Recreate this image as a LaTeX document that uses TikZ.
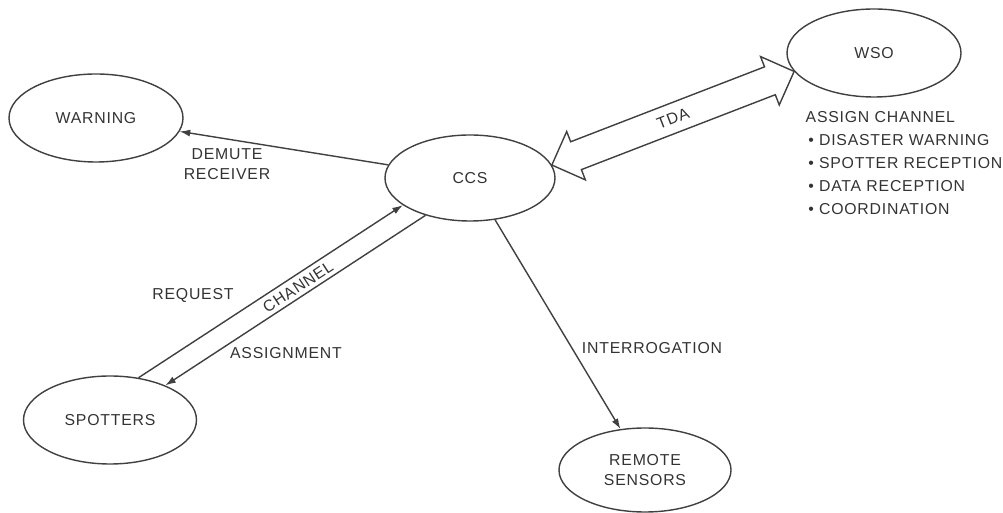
\documentclass[tikz,border=0pt]{standalone}
\usepackage{fontspec}
\setmainfont{Liberation Sans}[LetterSpace=5]
\usetikzlibrary{shapes.geometric,shapes.arrows,arrows.meta,calc}
\begin{document}
\begin{tikzpicture}[black!75,line width=.8pt,
		oval/.style={draw,ellipse,inner sep=0pt,minimum width=3.48cm,minimum height=1.76cm,align=center},
		tip/.style={-{Latex[length=6pt,width=4pt]}},
		tda/.style={draw,double arrow,double arrow head extend=.22cm,inner xsep=0pt,inner ysep=5pt,fill=white},
		every node/.style={font=\fontsize{9}{11}\selectfont,text=black!80}]
		\useasboundingbox(0,0)rectangle(20.06,-10.26);
		\node[oval](warning)at(1.92,-2.36){WARNING};
		\node[oval,minimum width=3.4cm,minimum height=1.72cm](ccs)at(9.4,-3.56){CCS};
		\node[oval](wso)at(17.48,-1.06){WSO};
		\node[oval,minimum width=3.46cm](spotters)at(2.2,-8.4){SPOTTERS};
		\node[oval,minimum width=3.44cm,minimum height=1.68cm](remote)at(12.9,-9.4){REMOTE\\SENSORS};
		% links from ccs
		\draw[tip](ccs)--(warning);
		\draw[tip](ccs)--(remote);
		\draw[tip](spotters.56)--(ccs.202.3);
		\draw[tip](ccs.220.7)--(spotters.32.5);
		\path let \p1=($(wso.193)-(ccs.9)$),\n1={atan2(\y1,\x1)},\n2={veclen(\x1,\y1)} in
			node[tda,rotate=\n1,minimum height=\n2]at($(ccs.9)!.5!(wso.193)$){TDA};
		% labels
		\node[align=center](demute)at(4.54,-3.28){DEMUTE\\RECEIVER};
		\node(request)at(3.86,-5.9){REQUEST};
		\node[rotate=33.3](channel)at(5.96,-5.74){CHANNEL};
		\node(assignment)at(5.72,-7.06){ASSIGNMENT};
		\node(interrogation)at(13.04,-6.96){INTERROGATION};
		\node[anchor=north west,align=left,inner sep=0pt,font=\fontsize{9}{13}\selectfont](assign)at(16.1,-2.22){ASSIGN CHANNEL\\
			\,\textbullet{} DISASTER WARNING\\
			\,\textbullet{} SPOTTER RECEPTION\\
			\,\textbullet{} DATA RECEPTION\\
			\,\textbullet{} COORDINATION};
	\end{tikzpicture}
\end{document}
